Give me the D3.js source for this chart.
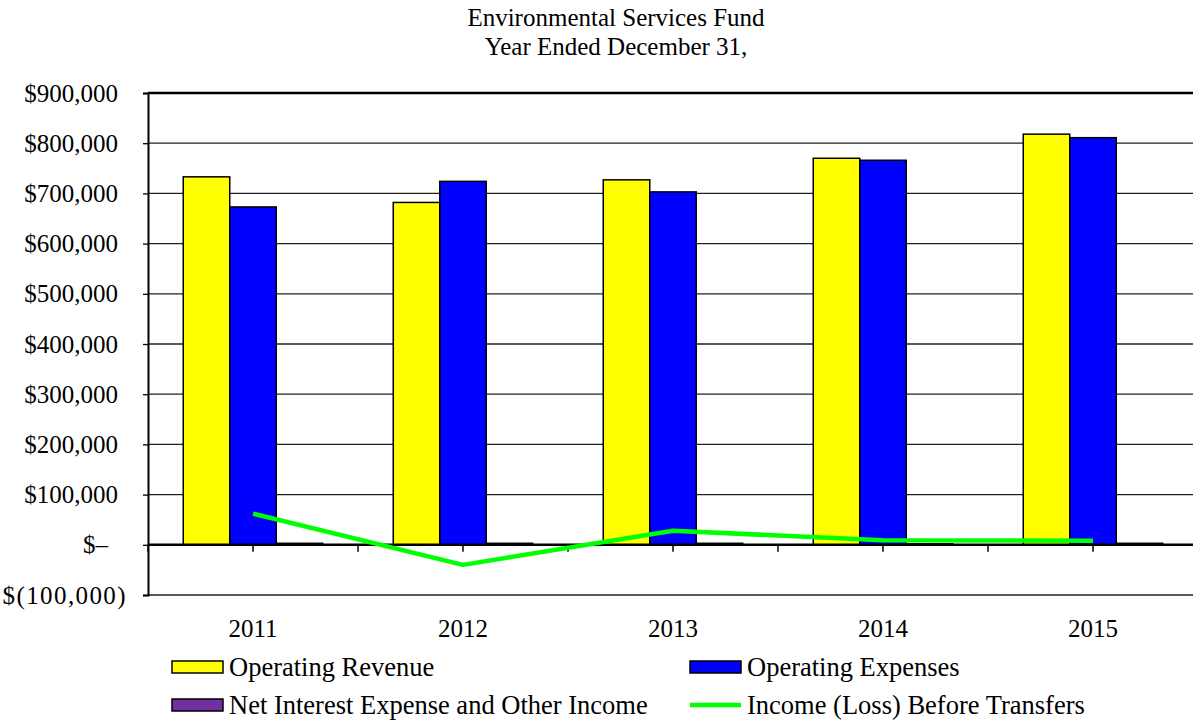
<!DOCTYPE html>
<html>
<head>
<meta charset="utf-8">
<script src="https://cdn.jsdelivr.net/npm/d3@7"></script>
<style>
  body { margin: 0; background: #fff; }
  text { font-family: "Liberation Serif", "Times New Roman", serif; fill: #000; }
</style>
</head>
<body>
<svg id="chart" width="1193" height="721"></svg>
<script>
// Data
const years = ['2011', '2012', '2013', '2014', '2015'];
const operatingRevenue = [733000, 682000, 727000, 770000, 818000];
const operatingExpenses = [673000, 724000, 703000, 766000, 811000];
const netInterest = [3000, 3000, 3000, 2000, 3000];
const incomeBeforeTransfers = [62000, -40000, 28000, 9000, 8000];
const yTicks = [-100000, 0, 100000, 200000, 300000, 400000, 500000, 600000, 700000, 800000, 900000];

const COLORS = { rev: '#ffff00', exp: '#0000ff', int: '#7030a0', line: '#00ff00' };
const FONT = 25;

const svg = d3.select('#chart');
const margin = { left: 148, right: 1198, top: 93, bottom: 595 };

const x = d3.scaleBand().domain(years).range([margin.left, margin.right]);
const y = d3.scaleLinear().domain([-100000, 900000]).range([margin.bottom, margin.top]);

// Title
svg.append('text').attr('x', 616).attr('y', 26).attr('text-anchor', 'middle')
  .attr('font-size', FONT).text('Environmental Services Fund');
svg.append('text').attr('x', 616).attr('y', 55).attr('text-anchor', 'middle')
  .attr('font-size', FONT).text('Year Ended December 31,');

// Gridlines
svg.append('g').selectAll('line').data(yTicks).enter().append('line')
  .attr('x1', margin.left).attr('x2', margin.right)
  .attr('y1', d => y(d)).attr('y2', d => y(d))
  .attr('stroke', d => d === 900000 ? '#000' : '#222')
  .attr('stroke-width', d => d === 900000 ? 2.5 : 1.3);

// Y axis
const fmt = d => {
  if (d === 0) return '$\u2013';
  if (d < 0) return '$(' + d3.format(',')(-d) + ')';
  return '$' + d3.format(',')(d);
};
const yAxis = svg.append('g').attr('transform', `translate(${margin.left},0)`)
  .call(d3.axisLeft(y).tickValues(yTicks).tickFormat(fmt).tickSize(5).tickPadding(25));
yAxis.select('.domain').attr('stroke', '#000').attr('stroke-width', 2);
yAxis.selectAll('.tick line').attr('stroke', '#000').attr('stroke-width', 1.3);
yAxis.selectAll('.tick text')
  .attr('font-size', FONT).attr('fill', '#000')
  .attr('dx', d => d < 0 ? 9 : (d === 0 ? -10 : 0))
  .attr('letter-spacing', d => d < 0 ? 1.4 : 0);

// Bars
const inner = d3.scaleBand().domain(['rev', 'exp', 'int'])
  .range([0, x.bandwidth()]).paddingOuter(0.758).paddingInner(0);
const series = [
  { key: 'rev', values: operatingRevenue },
  { key: 'exp', values: operatingExpenses },
  { key: 'int', values: netInterest }
];
series.forEach(s => {
  svg.append('g').selectAll('rect').data(s.values).enter().append('rect')
    .attr('x', (d, i) => x(years[i]) + inner(s.key))
    .attr('width', inner.bandwidth())
    .attr('y', d => y(Math.max(0, d)))
    .attr('height', d => Math.abs(y(d) - y(0)))
    .attr('fill', COLORS[s.key])
    .attr('stroke', '#000').attr('stroke-width', 1.5);
});

// Zero axis with tick marks at centers and boundaries
svg.append('line').attr('x1', margin.left).attr('x2', margin.right)
  .attr('y1', y(0)).attr('y2', y(0)).attr('stroke', '#000').attr('stroke-width', 2.5);
const xTickPos = [];
years.forEach(yr => { xTickPos.push(x(yr)); xTickPos.push(x(yr) + x.bandwidth() / 2); });
svg.append('g').selectAll('line').data(xTickPos).enter().append('line')
  .attr('x1', d => d).attr('x2', d => d)
  .attr('y1', y(0)).attr('y2', y(0) + 7)
  .attr('stroke', '#000').attr('stroke-width', 1.5);

// Category labels
svg.append('g').selectAll('text').data(years).enter().append('text')
  .attr('x', d => x(d) + x.bandwidth() / 2).attr('y', 637)
  .attr('text-anchor', 'middle').attr('font-size', FONT).text(d => d);

// Line
const line = d3.line()
  .x((d, i) => x(years[i]) + x.bandwidth() / 2)
  .y(d => y(d));
svg.append('path').datum(incomeBeforeTransfers)
  .attr('d', line).attr('fill', 'none')
  .attr('stroke', COLORS.line).attr('stroke-width', 4.5)
  .attr('stroke-linejoin', 'round');

// Legend
const legend = [
  { label: 'Operating Revenue', color: COLORS.rev, type: 'rect', lx: 172, ly: 667 },
  { label: 'Operating Expenses', color: COLORS.exp, type: 'rect', lx: 690, ly: 667 },
  { label: 'Net Interest Expense and Other Income', color: COLORS.int, type: 'rect', lx: 172, ly: 705 },
  { label: 'Income (Loss) Before Transfers', color: COLORS.line, type: 'line', lx: 690, ly: 705 }
];
legend.forEach(l => {
  if (l.type === 'rect') {
    svg.append('rect').attr('x', l.lx).attr('y', l.ly - 6).attr('width', 51).attr('height', 12)
      .attr('fill', l.color).attr('stroke', '#000').attr('stroke-width', 1.5);
  } else {
    svg.append('line').attr('x1', l.lx).attr('x2', l.lx + 51)
      .attr('y1', l.ly).attr('y2', l.ly)
      .attr('stroke', l.color).attr('stroke-width', 4.5);
  }
  svg.append('text').attr('x', l.lx + 57).attr('y', l.ly + 9)
    .attr('font-size', 26.5).text(l.label);
});
</script>
</body>
</html>
